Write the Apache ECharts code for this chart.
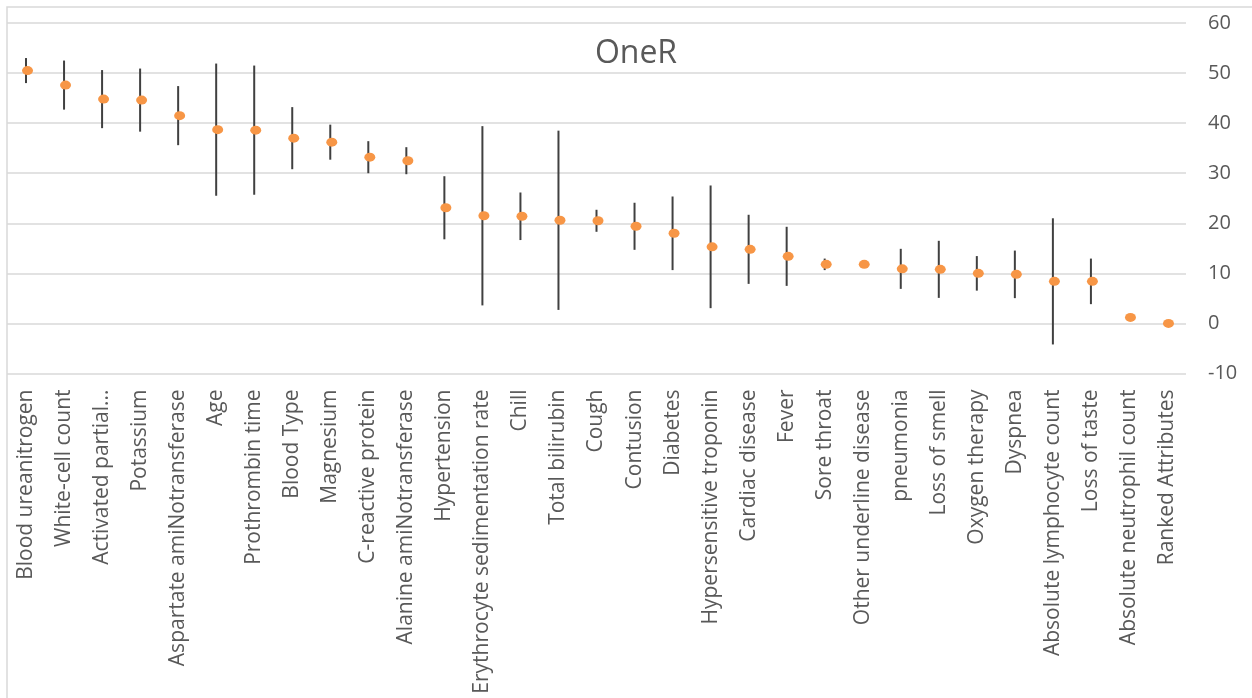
<!DOCTYPE html>
<html>
<head>
<meta charset="utf-8">
<title>OneR</title>
<script src="https://cdn.jsdelivr.net/npm/echarts@6/dist/echarts.min.js"></script>
<style>
  html, body { margin: 0; padding: 0; background: #ffffff; }
  #chart { width: 1252px; height: 698px; }
</style>
</head>
<body>
<div id="chart"></div>
<script>
// Attributes ranked by OneR merit
const categories = [
  'Blood ureanitrogen', 'White-cell count', 'Activated partial...', 'Potassium',
  'Aspartate amiNotransferase', 'Age', 'Prothrombin time', 'Blood Type', 'Magnesium',
  'C-reactive protein', 'Alanine amiNotransferase', 'Hypertension',
  'Erythrocyte sedimentation rate', 'Chill', 'Total bilirubin', 'Cough', 'Contusion',
  'Diabetes', 'Hypersensitive troponin', 'Cardiac disease', 'Fever', 'Sore throat',
  'Other underline disease', 'pneumonia', 'Loss of smell', 'Oxygen therapy', 'Dyspnea',
  'Absolute lymphocyte count', 'Loss of taste', 'Absolute neutrophil count', 'Ranked Attributes'
];

// Average merit for each attribute
const meritMean = [
  50.5, 47.6, 44.8, 44.6, 41.5, 38.7, 38.6, 37.0, 36.2, 33.2, 32.5, 23.1,
  21.5, 21.4, 20.6, 20.5, 19.4, 18.0, 15.3, 14.8, 13.4, 11.8, 11.8, 10.9,
  10.8, 10.0, 9.8, 8.4, 8.4, 1.2, 0.0
];

// Spread (+/-) around each average
const meritSpread = [
  2.5, 4.9, 5.8, 6.3, 5.9, 13.2, 12.9, 6.2, 3.5, 3.2, 2.7, 6.3,
  17.9, 4.75, 17.9, 2.2, 4.7, 7.35, 12.25, 6.9, 5.9, 1.15, 0.5, 4.0,
  5.7, 3.45, 4.75, 12.6, 4.55, 0, 0
];

const yTicks = { min: -10, max: 60, step: 10 };

const FONT = '"Open Sans", "Noto Sans", sans-serif';
const TEXT = '#595959';

const errorData = meritMean.map((m, i) => [i, m - meritSpread[i], m + meritSpread[i]]);

const chart = echarts.init(document.getElementById('chart'), null, { renderer: 'canvas' });

chart.setOption({
  backgroundColor: '#ffffff',
  animation: false,
  title: {
    text: 'OneR',
    left: 631,
    top: 33,
    textAlign: 'center',
    textStyle: { fontFamily: FONT, fontSize: 32, fontWeight: 'normal', color: TEXT }
  },
  graphic: [{
    type: 'rect',
    silent: true,
    z: -1,
    shape: { x: 7, y: 7, width: 1400, height: 900 },
    style: { fill: 'none', stroke: '#d9d9d9', lineWidth: 1.5 }
  }],
  grid: { left: 7, right: 66, top: 23, bottom: 324.5 },
  xAxis: {
    type: 'category',
    data: categories,
    axisLine: { show: false },
    axisTick: { show: false },
    splitLine: { show: false },
    axisLabel: {
      rotate: 90,
      interval: 0,
      margin: 16,
      fontFamily: FONT,
      fontSize: 21,
      color: TEXT
    }
  },
  yAxis: {
    type: 'value',
    position: 'right',
    min: yTicks.min,
    max: yTicks.max,
    interval: yTicks.step,
    axisLine: { show: false },
    axisTick: { show: false },
    splitLine: { lineStyle: { color: '#d9d9d9', width: 1.5 } },
    axisLabel: {
      margin: 22,
      fontFamily: FONT,
      fontSize: 20,
      color: TEXT
    }
  },
  series: [
    {
      type: 'custom',
      name: 'spread',
      data: errorData,
      z: 2,
      renderItem: function (params, api) {
        const idx = api.value(0);
        const top = api.coord([idx, api.value(2)]);
        const bottom = api.coord([idx, api.value(1)]);
        return {
          type: 'line',
          shape: { x1: top[0], y1: top[1], x2: bottom[0], y2: bottom[1] },
          style: { stroke: '#404040', lineWidth: 2 }
        };
      }
    },
    {
      type: 'scatter',
      name: 'merit',
      data: meritMean,
      z: 3,
      symbol: 'circle',
      symbolSize: [11, 9],
      symbolOffset: [1.5, 0],
      itemStyle: { color: '#f79646', opacity: 1 }
    }
  ]
});
</script>
</body>
</html>
